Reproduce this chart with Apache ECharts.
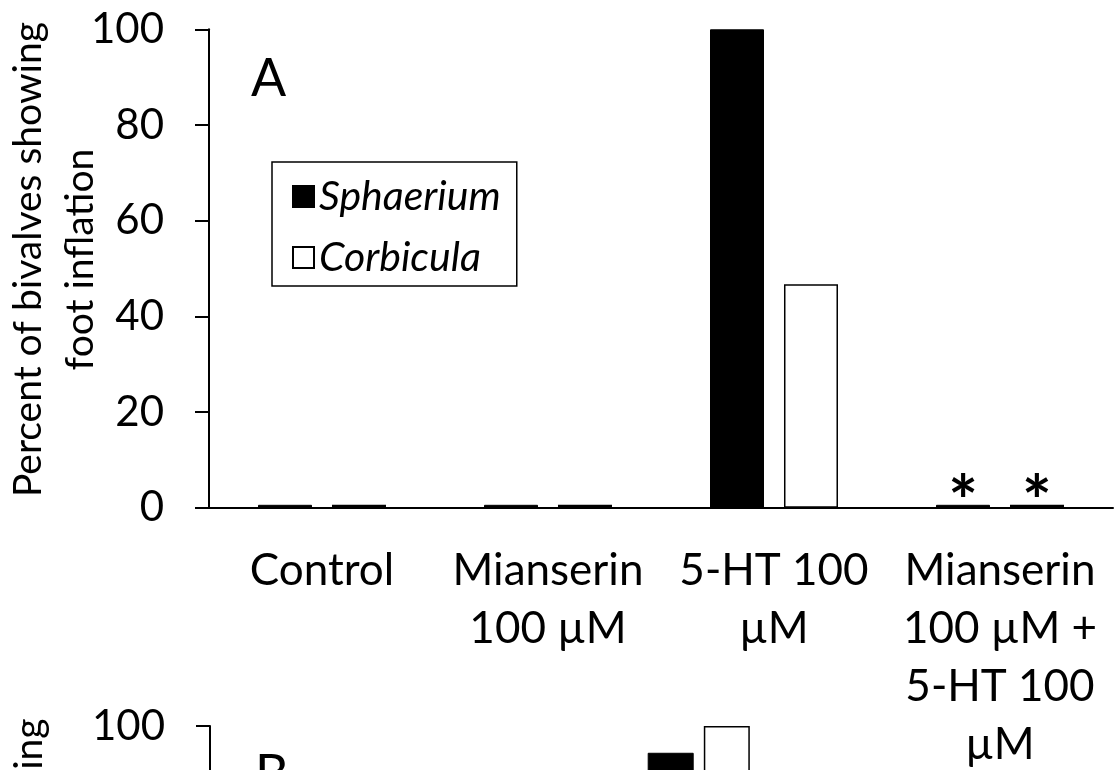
<!DOCTYPE html>
<html>
<head>
<meta charset="utf-8">
<script src="https://cdn.jsdelivr.net/npm/echarts@6/dist/echarts.min.js"></script>
<style>
  html, body { margin: 0; padding: 0; background: #fff; }
  #chart { width: 1115px; height: 770px; }
</style>
</head>
<body>
<div id="chart"></div>
<script>
// Treatments on the x axis (line breaks as printed under the axis)
const categories = ['Control', 'Mianserin\n100 µM', '5-HT 100\nµM', 'Mianserin\n100 µM +\n5-HT 100\nµM'];

// Panel A: percent of animals showing foot inflation
const sphaeriumA = [0, 0, 100, 0];
const corbiculaA = [0, 0, 46.7, 0];
const significantA = [false, false, false, true];   // asterisk above both bars

// Panel B (only its top edge falls inside the page)
const sphaeriumB = [null, null, 94.4, null];
const corbiculaB = [null, null, 100, null];

// Value axis ticks
const yTicks = [0, 20, 40, 60, 80, 100];
const yName = 'Percent of bivalves showing\nfoot inflation';
const seriesNames = ['Sphaerium', 'Corbicula'];

const FONT = 'Lato';
const BLACK = '#000';

function valueAxis(gridIndex) {
  return {
    type: 'value',
    gridIndex: gridIndex,
    min: yTicks[0],
    max: yTicks[yTicks.length - 1],
    interval: yTicks[1] - yTicks[0],
    name: yName,
    nameLocation: 'middle',
    nameGap: 103,
    nameMoveOverlap: false,
    nameTextStyle: {
      color: BLACK, fontFamily: FONT, fontSize: 39, lineHeight: 52,
      padding: [0, 0, 0, 18]
    },
    axisLine: { show: true, lineStyle: { color: BLACK, width: 2 } },
    axisTick: { show: true, length: 14, lineStyle: { color: BLACK, width: 2 } },
    splitLine: { show: false },
    axisLabel: { color: BLACK, fontFamily: FONT, fontSize: 42, margin: 45 }
  };
}

function categoryAxis(gridIndex) {
  return {
    type: 'category',
    gridIndex: gridIndex,
    data: categories,
    axisLine: { lineStyle: { color: BLACK, width: 2 } },
    axisTick: { length: 14, lineStyle: { color: BLACK, width: 2 } },
    axisLabel: {
      color: BLACK, fontFamily: FONT, fontSize: 44, lineHeight: 58,
      margin: 34, interval: 0
    }
  };
}

const starLabel = {
  show: true, position: 'top', formatter: '*', distance: 0,
  color: BLACK, fontFamily: FONT, fontSize: 70, fontWeight: 'bold',
  offset: [0, 35]
};

const option = {
  animation: false,
  backgroundColor: '#fff',
  grid: [
    { left: 209, top: 29.3, right: 2, height: 478.5, containLabel: false, outerBoundsMode: 'none' },
    { left: 210, top: 726, width: 782, height: 478, containLabel: false, outerBoundsMode: 'none' }
  ],
  xAxis: [categoryAxis(0), categoryAxis(1)],
  yAxis: [valueAxis(0), valueAxis(1)],
  legend: {
    data: seriesNames,
    orient: 'vertical',
    left: 272, top: 162,
    padding: [14, 16, 8, 20],
    borderColor: BLACK, borderWidth: 1.5,
    itemWidth: 21, itemHeight: 21, itemGap: 20, itemTextGap: 16,
    icon: 'rect',
    selectedMode: false,
    textStyle: {
      color: BLACK, fontFamily: FONT, fontSize: 41, fontStyle: 'italic'
    }
  },
  graphic: [
    { type: 'text', left: 251, top: 53, style: { text: 'A', fontFamily: FONT, fontSize: 52, fill: BLACK } },
    { type: 'text', left: 255, top: 749, style: { text: 'B', fontFamily: FONT, fontSize: 52, fill: BLACK } }
  ],
  series: [
    {
      name: seriesNames[0], type: 'bar', xAxisIndex: 0, yAxisIndex: 0,
      barWidth: 54, barGap: '37%', barMinHeight: 3,
      itemStyle: { color: BLACK, borderColor: BLACK, borderWidth: 1 },
      data: sphaeriumA.map((v, i) => ({ value: v, label: significantA[i] ? starLabel : { show: false } }))
    },
    {
      name: seriesNames[1], type: 'bar', xAxisIndex: 0, yAxisIndex: 0,
      barWidth: 54, barGap: '37%', barMinHeight: 3,
      itemStyle: { color: '#fff', borderColor: BLACK, borderWidth: 1.5 },
      data: corbiculaA.map((v, i) => ({ value: v, label: significantA[i] ? starLabel : { show: false } }))
    },
    {
      name: seriesNames[0], type: 'bar', xAxisIndex: 1, yAxisIndex: 1,
      barWidth: 46, barGap: '22%',
      itemStyle: { color: BLACK, borderColor: BLACK, borderWidth: 1 },
      data: sphaeriumB
    },
    {
      name: seriesNames[1], type: 'bar', xAxisIndex: 1, yAxisIndex: 1,
      barWidth: 46, barGap: '22%',
      itemStyle: { color: '#fff', borderColor: BLACK, borderWidth: 1.5 },
      data: corbiculaB
    }
  ]
};

const chart = echarts.init(document.getElementById('chart'), null, { renderer: 'canvas' });
chart.setOption(option);
</script>
</body>
</html>
